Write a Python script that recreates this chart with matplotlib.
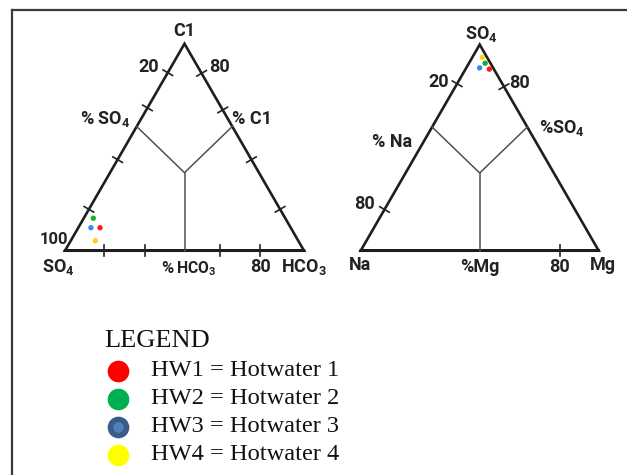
import numpy as np
import matplotlib.pyplot as plt
from matplotlib.lines import Line2D

plt.rcParams['mathtext.fontset'] = 'custom'
plt.rcParams['mathtext.rm'] = 'Roboto:bold'
plt.rcParams['mathtext.bf'] = 'Roboto:bold'
plt.rcParams['mathtext.it'] = 'Roboto:bold'

## sample data (percent)
samples = ['HW1', 'HW2', 'HW3', 'HW4']
names = ['Hotwater 1', 'Hotwater 2', 'Hotwater 3', 'Hotwater 4']
colors = ['#ff1a1a', '#1aad2a', '#2f8cff', '#ffd21a']
legend_colors = ['#ff0000', '#00b050', '#4f81bd', '#ffff00']

# anion triangle: SO4 (left), HCO3 (right), Cl (top)
so4_a = [79.8, 80.3, 83.6, 84.9]
hco3_a = [9.1, 4.0, 5.3, 10.3]
cl_a = [11.1, 15.7, 11.1, 4.8]

# second triangle: Na (left), Mg (right), SO4 (top)
na_b = [1.9, 2.2, 5.7, 2.0]
mg_b = [10.0, 6.8, 5.6, 4.2]
so4_b = [88.1, 91.0, 88.7, 93.8]

W, H = 627, 475
R3 = np.sqrt(3) / 2
LABEL = dict(family=['Roboto', 'DejaVu Sans'], weight='bold', color='#222222')
FS = 13


def tern(left, right, top):
    left, right, top = (np.asarray(v, float) for v in (left, right, top))
    s = left + right + top
    return (right + top / 2) / s, top / s * R3


def tri_axes(x0, y0, side):
    # x0, y0 = pixel position of bottom-left vertex, side = edge length in px
    l = x0 - 0.25 * side
    b = y0 + 0.2 * side
    ax = fig.add_axes([l / W, (H - b) / H, 1.5 * side / W, 1.25 * side / H])
    ax.set_xlim(-0.25, 1.25)
    ax.set_ylim(-0.2, 1.05)
    ax.axis('off')
    return ax


def draw_frame(ax, left_ticks, right_ticks, base_ticks, div=(0.6, 0.377)):
    A, B, C = np.array([0, 0]), np.array([1, 0]), np.array([0.5, R3])
    pts = np.array([A, B, C, A, B])
    ax.plot(pts[:, 0], pts[:, 1], color='#1e1e1e', lw=1.9, solid_joinstyle='miter')
    # inner dividers
    pl = A + div[0] * (C - A)
    pr = B + div[0] * (C - B)
    pj = np.array([0.5, div[1] * R3])
    ax.plot([pl[0], pj[0], pr[0]], [pl[1], pj[1], pr[1]], color='#505050', lw=1.1)
    ax.plot([0.5, 0.5], [pj[1], 0], color='#505050', lw=1.1)
    L = 0.023
    for P, Q, ts in ((A, C, left_ticks), (B, C, right_ticks), (A, B, base_ticks)):
        d = (Q - P) / np.linalg.norm(Q - P)
        n = np.array([-d[1], d[0]])
        for t in ts:
            m = P + t * (Q - P)
            ax.plot([m[0] - n[0] * L, m[0] + n[0] * L], [m[1] - n[1] * L, m[1] + n[1] * L],
                    color='#222222', lw=1.2)


fig = plt.figure(figsize=(W / 100, H / 100), dpi=100)

# outer frame (left and top)
fig.add_artist(Line2D([11.5 / W, 11.5 / W], [0, 1 - 9.5 / H], transform=fig.transFigure, color='#3a3a3a', lw=1.6))
fig.add_artist(Line2D([11.5 / W, 1], [1 - 9.5 / H, 1 - 9.5 / H], transform=fig.transFigure, color='#3a3a3a', lw=1.6))

## left triangle
ax1 = tri_axes(65, 250.7, 239)
draw_frame(ax1, [0.2, 0.44, 0.69, 0.86], [0.2, 0.44, 0.68, 0.857], [0.163, 0.335, 0.649, 0.816])
x, y = tern(so4_a, hco3_a, cl_a)
ax1.scatter(x, y, c=colors, s=15, zorder=3, linewidths=0)
ax1.text(0.498, 0.920, 'C1', ha='center', va='center', fontsize=FS, **LABEL)
ax1.text(0.349, 0.770, '20', ha='center', va='center', fontsize=FS, **LABEL)
ax1.text(0.646, 0.770, '80', ha='center', va='center', fontsize=FS, **LABEL)
ax1.text(0.167, 0.550, r'% SO$_4$', ha='center', va='center', fontsize=FS, **LABEL)
ax1.text(0.781, 0.550, '% C1', ha='center', va='center', fontsize=FS, **LABEL)
ax1.text(-0.046, 0.045, '100', ha='center', va='center', fontsize=12, **LABEL)
ax1.text(-0.028, -0.067, r'SO$_4$', ha='center', va='center', fontsize=FS, **LABEL)
ax1.text(0.427, -0.076, '%', ha='center', va='center', fontsize=12, **LABEL)
ax1.text(0.548, -0.076, r'HCO$_3$', ha='center', va='center', fontsize=11.3, **LABEL)
ax1.text(0.816, -0.067, '80', ha='center', va='center', fontsize=FS, **LABEL)
ax1.text(1.0, -0.067, r'HCO$_3$', ha='center', va='center', fontsize=FS, **LABEL)

## right triangle
ax2 = tri_axes(360.7, 250.7, 238)
draw_frame(ax2, [0.2, 0.81], [0.796], [0.837])
x, y = tern(na_b, mg_b, so4_b)
ax2.scatter(x, y, c=colors, s=15, zorder=3, linewidths=0)
ax2.text(0.508, 0.910, r'SO$_4$', ha='center', va='center', fontsize=FS, **LABEL)
ax2.text(0.326, 0.710, '20', ha='center', va='center', fontsize=FS, **LABEL)
ax2.text(0.669, 0.706, '80', ha='center', va='center', fontsize=FS, **LABEL)
ax2.text(0.845, 0.514, r'%SO$_4$', ha='center', va='center', fontsize=FS, **LABEL)
ax2.text(0.130, 0.458, '% Na', ha='center', va='center', fontsize=FS, **LABEL)
ax2.text(0.018, 0.196, '80', ha='center', va='center', fontsize=FS, **LABEL)
ax2.text(-0.003, -0.060, 'Na', ha='center', va='center', fontsize=FS, **LABEL)
ax2.text(0.501, -0.067, '%Mg', ha='center', va='center', fontsize=FS, **LABEL)
ax2.text(0.837, -0.067, '80', ha='center', va='center', fontsize=FS, **LABEL)
ax2.text(1.019, -0.060, 'Mg', ha='center', va='center', fontsize=FS, **LABEL)

## legend
axl = fig.add_axes([0, 0, 1, 1])
axl.set_xlim(0, W)
axl.set_ylim(H, 0)
axl.axis('off')
serif = dict(family=['Liberation Serif', 'DejaVu Serif'], color='#111111')
axl.text(104, 341, 'LEGEND', ha='left', va='center', fontsize=19, **serif)
rows = 370.7 + 28.1 * np.arange(len(samples))
for i, (s, nm, c) in enumerate(zip(samples, names, legend_colors)):
    if s == 'HW3':
        axl.plot(117.7, rows[i], 'o', ms=11.6, mfc='#4f81bd', mec='#385d8a', mew=4)
    else:
        axl.plot(117.7, rows[i], 'o', ms=15.6, mfc=c, mec='none')
    axl.text(151, rows[i], f'{s} = {nm}', ha='left', va='center', fontsize=17.6, **serif)

fig.savefig('out.png', dpi=100)
